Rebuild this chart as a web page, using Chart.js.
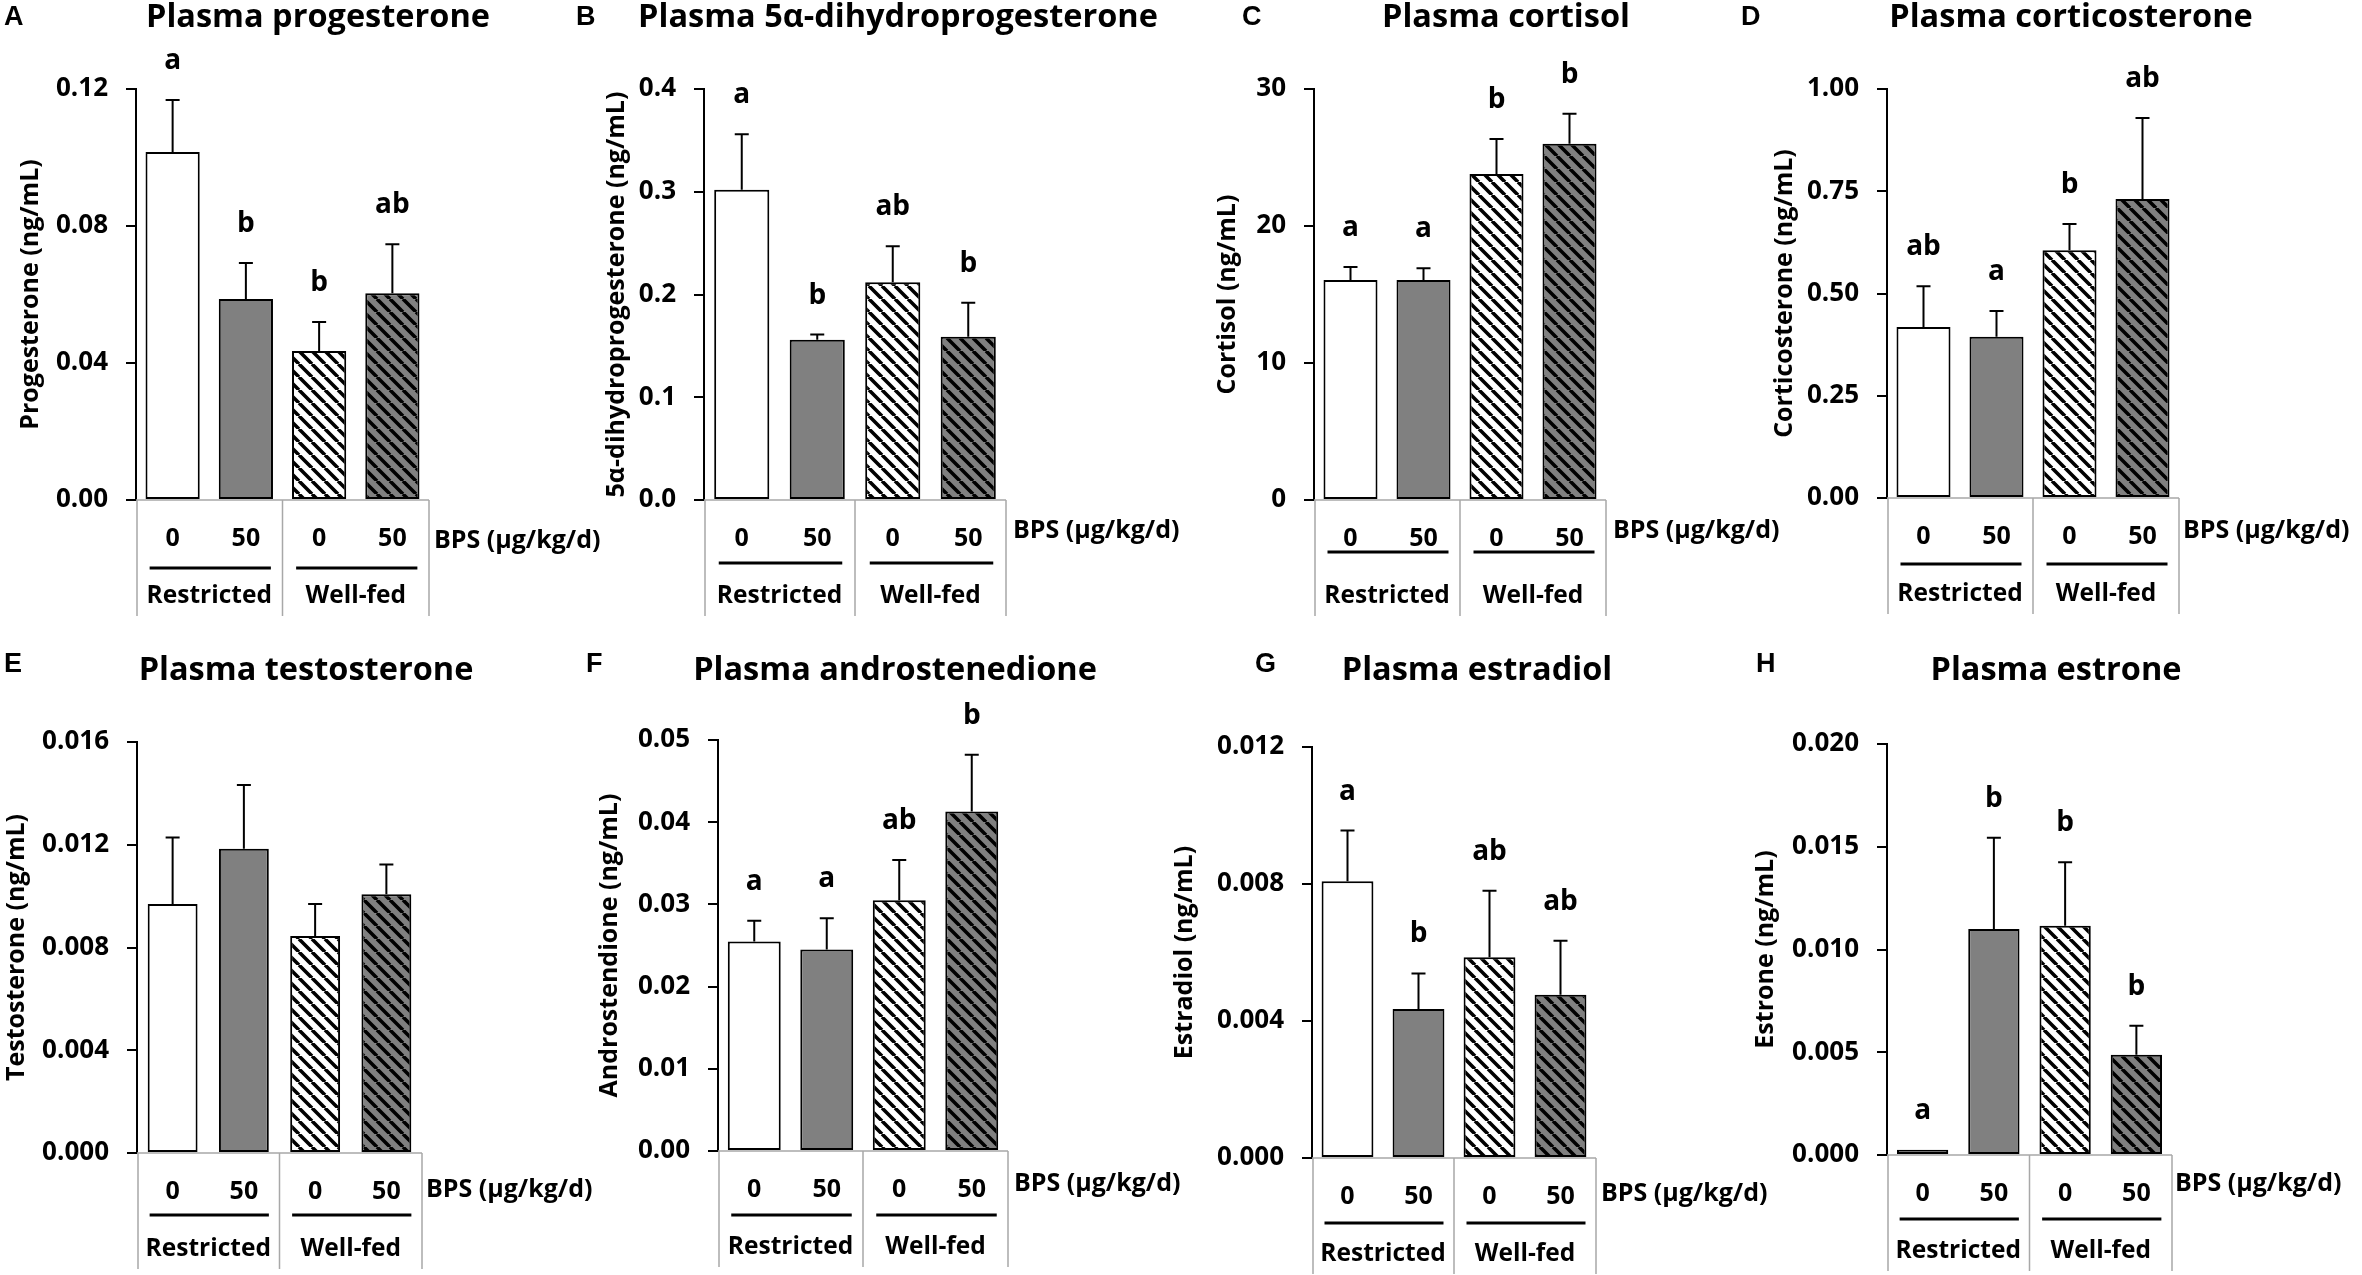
<!DOCTYPE html>
<html><head><meta charset="utf-8">
<script src="https://cdn.jsdelivr.net/npm/chart.js@4.4.0/dist/chart.umd.min.js"></script>
<style>
html,body{margin:0;padding:0;background:#fff;width:2362px;height:1275px;overflow:hidden;}
.cell{position:absolute;}
</style></head><body>
<div id="root"></div>
<script>
// ---------- data ----------
const categories = ['Restricted 0', 'Restricted 50', 'Well-fed 0', 'Well-fed 50'];
const doseLabels = ['0', '50', '0', '50'];
const groupLabels = ['Restricted', 'Well-fed'];
const doseAxisLabel = 'BPS (µg/kg/d)';

const progesteroneMean = [0.1016, 0.0587, 0.0435, 0.0604];
const progesteroneSem  = [0.0152, 0.0105, 0.0085, 0.0143];
const progesteroneLetters = ['a', 'b', 'b', 'ab'];
const progesteroneTicks = [0, 0.04, 0.08, 0.12];
const progesteroneTickLabels = ['0.00', '0.04', '0.08', '0.12'];

const dhpMean = [0.302, 0.156, 0.212, 0.159];
const dhpSem  = [0.054, 0.005, 0.035, 0.033];
const dhpLetters = ['a', 'b', 'ab', 'b'];
const dhpTicks = [0, 0.1, 0.2, 0.3, 0.4];
const dhpTickLabels = ['0.0', '0.1', '0.2', '0.3', '0.4'];

const cortisolMean = [16.06, 16.06, 23.8, 26.0];
const cortisolSem  = [0.95, 0.85, 2.55, 2.2];
const cortisolLetters = ['a', 'a', 'b', 'b'];
const cortisolTicks = [0, 10, 20, 30];
const cortisolTickLabels = ['0', '10', '20', '30'];

const corticosteroneMean = [0.418, 0.394, 0.606, 0.731];
const corticosteroneSem  = [0.100, 0.063, 0.064, 0.198];
const corticosteroneLetters = ['ab', 'a', 'b', 'ab'];
const corticosteroneTicks = [0, 0.25, 0.5, 0.75, 1.0];
const corticosteroneTickLabels = ['0.00', '0.25', '0.50', '0.75', '1.00'];

const testosteroneMean = [0.00969, 0.01184, 0.00845, 0.01007];
const testosteroneSem  = [0.00259, 0.00249, 0.00124, 0.00116];
const testosteroneLetters = ['', '', '', ''];
const testosteroneTicks = [0, 0.004, 0.008, 0.012, 0.016];
const testosteroneTickLabels = ['0.000', '0.004', '0.008', '0.012', '0.016'];

const androstenedioneMean = [0.0255, 0.0245, 0.0305, 0.0413];
const androstenedioneSem  = [0.0025, 0.0038, 0.0049, 0.0069];
const androstenedioneLetters = ['a', 'a', 'ab', 'b'];
const androstenedioneTicks = [0, 0.01, 0.02, 0.03, 0.04, 0.05];
const androstenedioneTickLabels = ['0.00', '0.01', '0.02', '0.03', '0.04', '0.05'];

const estradiolMean = [0.00808, 0.00435, 0.00586, 0.00477];
const estradiolSem  = [0.00148, 0.00104, 0.00194, 0.00157];
const estradiolLetters = ['a', 'b', 'ab', 'ab'];
const estradiolTicks = [0, 0.004, 0.008, 0.012];
const estradiolTickLabels = ['0.000', '0.004', '0.008', '0.012'];

const estroneMean = [0.00026, 0.0110, 0.01116, 0.00488];
const estroneSem  = [0, 0.00444, 0.00309, 0.00141];
const estroneLetters = ['a', 'b', 'b', 'b'];
const estroneTicks = [0, 0.005, 0.010, 0.015, 0.020];
const estroneTickLabels = ['0.000', '0.005', '0.010', '0.015', '0.020'];

// ---------- panels (text + data refs) ----------
const panels = [
  {id:'A', title:'Plasma progesterone', yTitle:'Progesterone (ng/mL)', mean:progesteroneMean, sem:progesteroneSem, letters:progesteroneLetters, ticks:progesteroneTicks, tickLabels:progesteroneTickLabels},
  {id:'B', title:'Plasma 5α-dihydroprogesterone', yTitle:'5α-dihydroprogesterone (ng/mL)', mean:dhpMean, sem:dhpSem, letters:dhpLetters, ticks:dhpTicks, tickLabels:dhpTickLabels},
  {id:'C', title:'Plasma cortisol', yTitle:'Cortisol (ng/mL)', mean:cortisolMean, sem:cortisolSem, letters:cortisolLetters, ticks:cortisolTicks, tickLabels:cortisolTickLabels},
  {id:'D', title:'Plasma corticosterone', yTitle:'Corticosterone (ng/mL)', mean:corticosteroneMean, sem:corticosteroneSem, letters:corticosteroneLetters, ticks:corticosteroneTicks, tickLabels:corticosteroneTickLabels},
  {id:'E', title:'Plasma testosterone', yTitle:'Testosterone (ng/mL)', mean:testosteroneMean, sem:testosteroneSem, letters:testosteroneLetters, ticks:testosteroneTicks, tickLabels:testosteroneTickLabels},
  {id:'F', title:'Plasma androstenedione', yTitle:'Androstendione (ng/mL)', mean:androstenedioneMean, sem:androstenedioneSem, letters:androstenedioneLetters, ticks:androstenedioneTicks, tickLabels:androstenedioneTickLabels},
  {id:'G', title:'Plasma estradiol', yTitle:'Estradiol (ng/mL)', mean:estradiolMean, sem:estradiolSem, letters:estradiolLetters, ticks:estradiolTicks, tickLabels:estradiolTickLabels},
  {id:'H', title:'Plasma estrone', yTitle:'Estrone (ng/mL)', mean:estroneMean, sem:estroneSem, letters:estroneLetters, ticks:estroneTicks, tickLabels:estroneTickLabels}
];

// ---------- layout (page pixels) ----------
const layout = {
  A:{L:0,    T:0,   W:640, H:640, axisX:136,  right:429,  yTop:89,  yBot:500,  titleX:318,  titleY:27,  letX:4,    letY:25,  yTitleX:31,   bpsX:434,  bpsY:541, lineDy:68, barPct:0.74},
  B:{L:570,  T:0,   W:640, H:640, axisX:704,  right:1006, yTop:89,  yBot:500,  titleX:898,  titleY:27,  letX:576,  letY:25,  yTitleX:617,  bpsX:1013, bpsY:531, lineDy:63, barPct:0.73},
  C:{L:1180, T:0,   W:640, H:640, axisX:1314, right:1606, yTop:89,  yBot:500,  titleX:1506, titleY:27,  letX:1242, letY:25,  yTitleX:1228, bpsX:1613, bpsY:531, lineDy:52, barPct:0.74},
  D:{L:1740, T:0,   W:622, H:640, axisX:1887, right:2179, yTop:89,  yBot:498,  titleX:2071, titleY:27,  letX:1741, letY:25,  yTitleX:1785, bpsX:2183, bpsY:531, lineDy:66, barPct:0.74},
  E:{L:0,    T:640, W:640, H:635, axisX:137,  right:422,  yTop:742, yBot:1153, titleX:306,  titleY:680, letX:4,    letY:672, yTitleX:17,   bpsX:426,  bpsY:1190, lineDy:62, barPct:0.70},
  F:{L:570,  T:640, W:640, H:635, axisX:718,  right:1008, yTop:740, yBot:1151, titleX:895,  titleY:680, letX:586,  letY:672, yTitleX:610,  bpsX:1014, bpsY:1184, lineDy:64, barPct:0.73},
  G:{L:1150, T:640, W:640, H:635, axisX:1312, right:1596, yTop:747, yBot:1158, titleX:1477, titleY:680, letX:1255, letY:672, yTitleX:1185, bpsX:1601, bpsY:1194, lineDy:65, barPct:0.73},
  H:{L:1745, T:640, W:617, H:635, axisX:1887, right:2172, yTop:744, yBot:1155, titleX:2056, titleY:680, letX:1756, letY:672, yTitleX:1766, bpsX:2175, bpsY:1184, lineDy:64, barPct:0.72}
};

const FONT = "'Open Sans', 'Noto Sans', sans-serif";
const GRAY = '#808080';
const TABLE_GRAY = '#a8a8a8';

function hatch(bg) {
  const s = 13;
  const c = document.createElement('canvas');
  c.width = s; c.height = s;
  const g = c.getContext('2d');
  g.fillStyle = bg; g.fillRect(0, 0, s, s);
  g.strokeStyle = '#000'; g.lineWidth = 3.6;
  g.beginPath();
  for (const o of [-s, 0, s]) { g.moveTo(o, 0); g.lineTo(o + s, s); }
  g.stroke();
  return g.createPattern(c, 'repeat');
}

const root = document.getElementById('root');

panels.forEach(p => {
  const lay = layout[p.id];
  const div = document.createElement('div');
  div.className = 'cell';
  div.style.left = lay.L + 'px'; div.style.top = lay.T + 'px';
  div.style.width = lay.W + 'px'; div.style.height = lay.H + 'px';
  const cv = document.createElement('canvas');
  div.appendChild(cv);
  root.appendChild(div);

  const yTitleSize = 25;
  const yTitleLH = yTitleSize * 1.2;

  const decor = {
    id: 'decor' + p.id,
    beforeDatasetsDraw(chart) {
      const {ctx, chartArea} = chart;
      const xs = chart.scales.x;
      const mid = (xs.getPixelForValue(1) + xs.getPixelForValue(2)) / 2;
      const b = chartArea.bottom;
      ctx.save();
      ctx.strokeStyle = TABLE_GRAY; ctx.lineWidth = 1.5;
      ctx.beginPath();
      ctx.moveTo(chartArea.left, b); ctx.lineTo(chartArea.right, b);
      for (const x of [chartArea.left + 1, mid, chartArea.right]) { ctx.moveTo(x, b); ctx.lineTo(x, b + 116); }
      ctx.stroke();
      ctx.restore();
    },
    afterDatasetsDraw(chart) {
      const {ctx, chartArea} = chart;
      const xs = chart.scales.x, ys = chart.scales.y;
      const b = chartArea.bottom;
      ctx.save();
      // error bars
      ctx.strokeStyle = '#000'; ctx.lineWidth = 2;
      p.mean.forEach((m, i) => {
        if (!p.sem[i]) return;
        const x = xs.getPixelForValue(i);
        const y1 = ys.getPixelForValue(m), y2 = ys.getPixelForValue(m + p.sem[i]);
        ctx.beginPath();
        ctx.moveTo(x, y1); ctx.lineTo(x, y2);
        ctx.moveTo(x - 7, y2); ctx.lineTo(x + 7, y2);
        ctx.stroke();
      });
      // significance letters
      ctx.fillStyle = '#000';
      ctx.font = `bold 28px ${FONT}`;
      ctx.textAlign = 'center'; ctx.textBaseline = 'alphabetic';
      p.letters.forEach((t, i) => {
        if (!t) return;
        const x = xs.getPixelForValue(i);
        const y = ys.getPixelForValue(p.mean[i] + p.sem[i]) - 31;
        ctx.fillText(t, x, y);
      });
      // dose labels
      ctx.font = `bold 25px ${FONT}`;
      ctx.textBaseline = 'middle';
      doseLabels.forEach((t, i) => ctx.fillText(t, xs.getPixelForValue(i), b + 39));
      // underlines and group labels
      ctx.lineWidth = 3;
      ctx.font = `bold 24.5px ${FONT}`;
      for (let g = 0; g < 2; g++) {
        const x0 = xs.getPixelForValue(g * 2), x1 = xs.getPixelForValue(g * 2 + 1);
        ctx.beginPath();
        ctx.moveTo(x0 - 23, b + lay.lineDy); ctx.lineTo(x1 + 25, b + lay.lineDy);
        ctx.stroke();
        ctx.fillText(groupLabels[g], (x0 + x1) / 2, b + 96);
      }
      // BPS label
      ctx.textAlign = 'left';
      ctx.font = `bold 25px ${FONT}`;
      ctx.fillText(doseAxisLabel, lay.bpsX - lay.L, lay.bpsY - lay.T);
      // panel title
      ctx.textAlign = 'center'; ctx.textBaseline = 'alphabetic';
      ctx.font = `bold 32.5px ${FONT}`;
      ctx.fillText(p.title, lay.titleX - lay.L, lay.titleY - lay.T);
      // panel letter
      ctx.textAlign = 'left';
      ctx.font = `bold 27px 'Liberation Sans', Arial, sans-serif`;
      ctx.fillText(p.id, lay.letX - lay.L, lay.letY - lay.T);
      ctx.restore();
    }
  };

  new Chart(cv, {
    type: 'bar',
    data: {
      labels: categories,
      datasets: [{
        data: p.mean,
        backgroundColor: ['#ffffff', GRAY, hatch('#ffffff'), hatch(GRAY)],
        borderColor: '#000',
        borderWidth: 2,
        borderSkipped: false,
        barPercentage: lay.barPct,
        categoryPercentage: 1
      }]
    },
    options: {
      responsive: true,
      maintainAspectRatio: false,
      animation: false,
      events: [],
      layout: {
        padding: {
          left: 0,
          right: lay.L + lay.W - lay.right,
          top: lay.yTop - lay.T,
          bottom: lay.T + lay.H - lay.yBot
        }
      },
      plugins: { legend: {display: false}, tooltip: {enabled: false}, title: {display: false} },
      scales: {
        x: { type: 'category', display: false, offset: true },
        y: {
          min: 0,
          max: p.ticks[p.ticks.length - 1],
          afterBuildTicks: s => { s.ticks = p.ticks.map(v => ({value: v})); },
          afterFit: s => { s.width = lay.axisX - lay.L; },
          ticks: {
            autoSkip: false,
            callback: (v, i) => p.tickLabels[i],
            color: '#000',
            padding: 18,
            font: {family: FONT, weight: 'bold', size: 26}
          },
          grid: { drawOnChartArea: false, drawTicks: true, tickLength: 10, color: '#000', lineWidth: 2 },
          border: { display: true, color: '#000', width: 2 },
          title: {
            display: true,
            text: p.yTitle,
            color: '#000',
            font: {family: FONT, weight: 'bold', size: yTitleSize, lineHeight: 1.2},
            padding: {top: lay.yTitleX - lay.L - yTitleLH / 2, bottom: 0}
          }
        }
      }
    },
    plugins: [decor]
  });
});
</script>
</body></html>
